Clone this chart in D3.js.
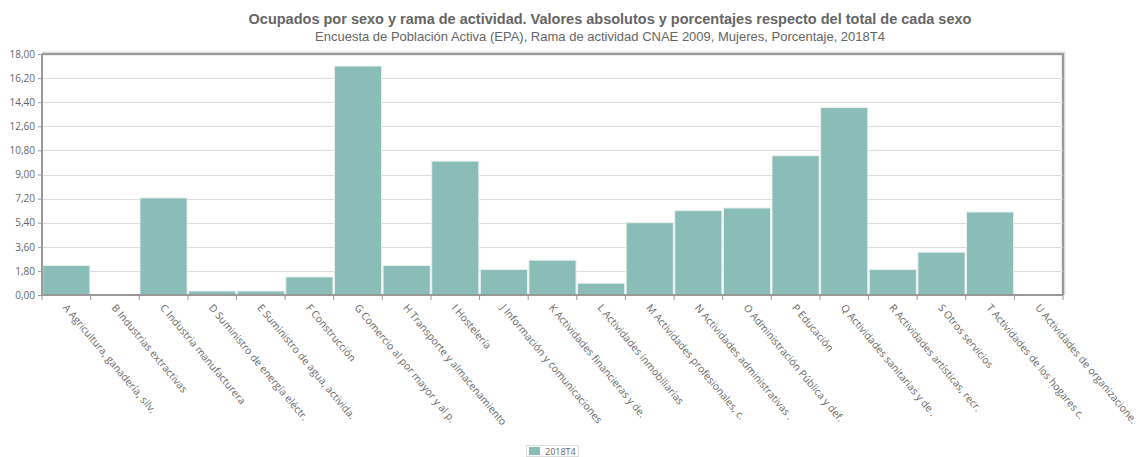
<!DOCTYPE html>
<html><head><meta charset="utf-8">
<script src="https://cdn.jsdelivr.net/npm/d3@7"></script>
<style>body{margin:0;background:#fff;} svg{display:block;}</style>
</head><body><svg id="c" width="1143" height="457"></svg>
<script>
const title = "Ocupados por sexo y rama de actividad. Valores absolutos y porcentajes respecto del total de cada sexo";
const subtitle = "Encuesta de Población Activa (EPA), Rama de actividad CNAE 2009, Mujeres, Porcentaje, 2018T4";
const categories = ["A Agricultura, ganadería, silv.","B Industrias extractivas","C Industria manufacturera","D Suministro de energía eléctr.","E Suministro de agua, activida.","F Construcción","G Comercio al por mayor y al p.","H Transporte y almacenamiento","I Hostelería","J Información y comunicaciones","K Actividades financieras y de.","L Actividades inmobiliarias","M Actividades profesionales, c.","N Actividades administrativas .","O Administración Pública y def.","P Educación","Q Actividades sanitarias y de .","R Actividades artísticas, recr.","S Otros servicios","T Actividades de los hogares c.","U Actividades de organizacione."];
const values = [2.2,0.03,7.25,0.3,0.3,1.35,17.1,2.2,10.0,1.9,2.6,0.88,5.4,6.3,6.5,10.4,14.0,1.9,3.2,6.2,0.0];
const yTicks = [0,1.8,3.6,5.4,7.2,9,10.8,12.6,14.4,16.2,18];
const seriesName = "2018T4";

const svg = d3.select("#c");
const L=42,R=1063,T=54,B=295;
const x = d3.scaleBand().domain(categories).range([L,R]).paddingInner(0.03).paddingOuter(0.015);
const y = d3.scaleLinear().domain([0,18]).range([B,T]);
const fmt = v => d3.format(".2f")(v).replace(".",",");

svg.append("text").attr("x",610).attr("y",24).attr("text-anchor","middle")
  .attr("font-family","Liberation Sans, Arial").attr("font-weight","bold").attr("font-size",14.5).attr("fill","#666").text(title);
svg.append("text").attr("x",600).attr("y",41).attr("text-anchor","middle")
  .attr("font-family","Liberation Sans, Arial").attr("font-size",13).attr("fill","#666").text(subtitle);

// frame shadow
svg.append("path").attr("d",`M${L},${T-0.5}H${R+0.5}V${B}`).attr("fill","none").attr("stroke","#ddd").attr("stroke-width",4);
svg.append("path").attr("d",`M${L},${T}H${R}V${B}`).attr("fill","none").attr("stroke","#999").attr("stroke-width",2);

// grid
svg.append("g").selectAll("line").data(yTicks.slice(1,-1)).join("line")
  .attr("x1",L).attr("x2",R).attr("y1",d=>Math.round(y(d))+0.5).attr("y2",d=>Math.round(y(d))+0.5)
  .attr("stroke","#dcdcdc").attr("stroke-width",1.2);

// bars
svg.append("g").selectAll("rect").data(values).join("rect")
  .attr("x",(d,i)=>x(categories[i])).attr("width",x.bandwidth())
  .attr("y",d=>y(d)).attr("height",d=>B-y(d))
  .attr("fill","#8bbdb8").attr("stroke","#e8f2f1").attr("stroke-width",1);

// y axis
const ya = svg.append("g").attr("transform",`translate(${L},0)`)
  .call(d3.axisLeft(y).tickValues(yTicks).tickFormat(fmt).tickSize(4).tickPadding(3));
ya.select(".domain").attr("stroke","#999").attr("stroke-width",2).attr("d",`M0,${T}V${B}`);
ya.selectAll(".tick line").attr("stroke","#999");
ya.selectAll(".tick text").attr("fill","#666").attr("font-family","Open Sans, sans-serif").attr("font-size",10);

// x axis
const xa = svg.append("g").attr("transform",`translate(0,${B})`)
  .call(d3.axisBottom(x).tickSize(0).tickFormat(""));
xa.select(".domain").attr("stroke","#999").attr("stroke-width",2).attr("d",`M${L},0H${R}`);
svg.append("g").selectAll("line").data(d3.range(categories.length+1)).join("line")
  .attr("x1",i=>L+i*((R-L)/categories.length)).attr("x2",i=>L+i*((R-L)/categories.length))
  .attr("y1",B).attr("y2",B+5).attr("stroke","#999");
svg.append("g").selectAll("text").data(categories).join("text")
  .attr("transform",d=>`translate(${x(d)+x.bandwidth()/2-4},${B+13}) rotate(50)`)
  .attr("font-family","Open Sans, sans-serif").attr("font-size",10.3).attr("fill","#666").text(d=>d);

// legend
const lg = svg.append("g");
lg.append("rect").attr("x",526.5).attr("y",445.5).attr("width",52).attr("height",11).attr("fill","#fff").attr("stroke","#ddd");
lg.append("rect").attr("x",529).attr("y",447).attr("width",11).attr("height",8).attr("fill","#8bbdb8");
lg.append("text").attr("x",545).attr("y",455).attr("font-family","Open Sans, sans-serif").attr("font-size",9).attr("fill","#666").text(seriesName);
</script></body></html>
